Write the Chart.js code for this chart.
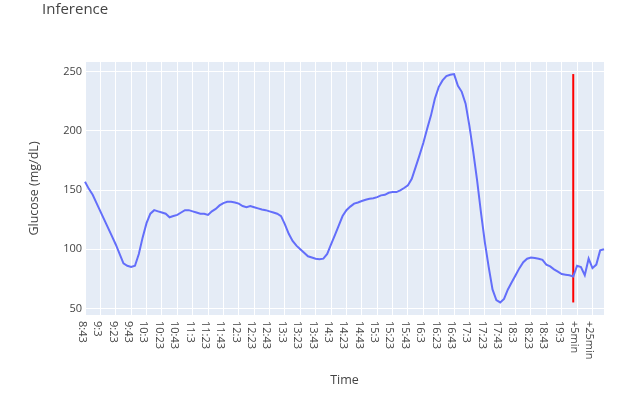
<!DOCTYPE html>
<html>
<head>
<meta charset="utf-8">
<title>Inference</title>
<script src="https://cdn.jsdelivr.net/npm/chart.js@4.4.1/dist/chart.umd.min.js"></script>
<style>
  html, body { margin: 0; padding: 0; background: #ffffff; }
  #chart-box { width: 640px; height: 403px; }
</style>
</head>
<body>
<div id="chart-box">
  <canvas id="glucose-chart" width="640" height="403"></canvas>
</div>
<script>
var startHour = 8;
var startMinute = 43;
var realCount = 128; // 8:43 .. 19:18, one reading every 5 min
var forecastLabels = ['+5min', '+10min', '+15min', '+20min', '+25min', '+30min', '+35min', '+40min'];
var yTicks = [50, 100, 150, 200, 250];

// glucose readings (mg/dL)
var glucose = [
  157, 151, 146, 139, 132, 125, 118, 111, 104, 96,
  88, 86, 85, 86, 96, 110, 122, 130, 133, 132,
  131, 130, 127, 128, 129, 131, 133, 133, 132, 131,
  130, 130, 129, 132, 134, 137, 139, 140, 140, 139.5,
  138.5, 136.5, 135.5, 136.5, 135.5, 134.5, 133.5, 133, 132, 131,
  130, 128, 121, 113, 107, 103, 100, 97, 94, 93,
  92, 91.5, 92, 96, 104, 112, 120, 128, 133, 136,
  138.5, 139.5, 140.7, 141.8, 142.6, 143, 144, 145.5, 146, 147.7,
  148.3, 148.3, 149.7, 151.7, 154, 159.5, 169.4, 179.3, 189.7, 201.8,
  213.1, 227.1, 237, 242.6, 246.3, 247.4, 248, 238, 233, 223,
  204, 182, 158, 131, 106, 85, 66, 57, 55, 58,
  66, 72, 78, 84, 89, 92, 93, 92.5, 92, 91,
  87, 85.5, 83, 81, 79, 78.5, 78, 77,
  // forecast
  86, 85, 78, 92, 84, 87, 99, 100
];

var times = [];
for (var i = 0; i < realCount; i++) {
  var total = startHour * 60 + startMinute + i * 5;
  times.push(Math.floor(total / 60) + ':' + (total % 60)); // same "9:3" style as the source
}
var labels = times.concat(forecastLabels);
var lastReal = times[times.length - 1];

var textColor = '#444444';
var fontFamily = '"Open Sans", "Liberation Sans", sans-serif';

// red marker at the last real reading, spanning the series range
var markerLine = [
  { x: lastReal, y: Math.min.apply(null, glucose) },
  { x: lastReal, y: Math.max.apply(null, glucose) }
];

var plotBackground = {
  id: 'plotBackground',
  beforeDraw: function(chart) {
    var a = chart.chartArea;
    var ctx = chart.ctx;
    ctx.save();
    ctx.fillStyle = '#e5ecf6';
    ctx.fillRect(a.left, a.top, a.right - a.left, a.bottom - a.top);
    ctx.restore();
  }
};

// title + x tick labels turned clockwise (reading top to bottom)
var extraText = {
  id: 'extraText',
  afterDraw: function(chart) {
    var ctx = chart.ctx;
    var xScale = chart.scales.x;
    ctx.save();
    ctx.fillStyle = textColor;
    ctx.font = '15px ' + fontFamily;
    ctx.textAlign = 'left';
    ctx.textBaseline = 'alphabetic';
    ctx.fillText('Inference', 42, 14);

    ctx.font = '11px ' + fontFamily;
    ctx.textBaseline = 'middle';
    for (var k = 0; k < xScale.ticks.length; k++) {
      var lab = xScale.ticks[k].label;
      if (!lab) continue;
      var px = xScale.getPixelForTick(k);
      ctx.save();
      ctx.translate(px - 3, xScale.top + 6);
      ctx.rotate(Math.PI / 2);
      ctx.fillText(lab, 0, 0);
      ctx.restore();
    }
    ctx.restore();
  }
};

var ctx = document.getElementById('glucose-chart').getContext('2d');
var glucoseChart = new Chart(ctx, {
  type: 'line',
  data: {
    labels: labels,
    datasets: [
      {
        data: glucose,
        borderColor: '#636efa',
        borderWidth: 2,
        pointRadius: 0,
        tension: 0,
        fill: false
      },
      {
        data: markerLine,
        borderColor: '#ff0000',
        borderWidth: 2,
        pointRadius: 0,
        fill: false
      }
    ]
  },
  options: {
    responsive: false,
    animation: false,
    layout: { padding: { left: 27, right: 36, top: 62, bottom: 0 } },
    plugins: {
      legend: { display: false },
      tooltip: { enabled: false }
    },
    scales: {
      x: {
        type: 'category',
        offset: false,
        border: { display: false },
        grid: {
          drawTicks: false,
          lineWidth: 1,
          color: function(c) { return c.index % 4 === 0 ? '#ffffff' : 'rgba(0,0,0,0)'; }
        },
        ticks: {
          display: false,
          autoSkip: false,
          callback: function(value, index) { return index % 4 === 0 ? labels[index] : ''; }
        },
        title: {
          display: true,
          text: 'Time',
          color: textColor,
          font: { family: fontFamily, size: 12.5 },
          padding: { top: 0, bottom: 15.5 }
        },
        afterFit: function(scale) { scale.height = 88; }
      },
      y: {
        min: 44.4,
        max: 258.2,
        border: { display: false },
        grid: { drawTicks: false, color: '#ffffff', lineWidth: 1 },
        afterBuildTicks: function(scale) {
          scale.ticks = yTicks.map(function(v) { return { value: v }; });
        },
        ticks: {
          padding: 3,
          color: textColor,
          font: { family: fontFamily, size: 11 }
        },
        title: {
          display: true,
          text: 'Glucose (mg/dL)',
          color: textColor,
          font: { family: fontFamily, size: 12.5 },
          padding: { top: 0, bottom: 0 }
        },
        afterFit: function(scale) { scale.width = 58; }
      }
    }
  },
  plugins: [plotBackground, extraText]
});
</script>
</body>
</html>
